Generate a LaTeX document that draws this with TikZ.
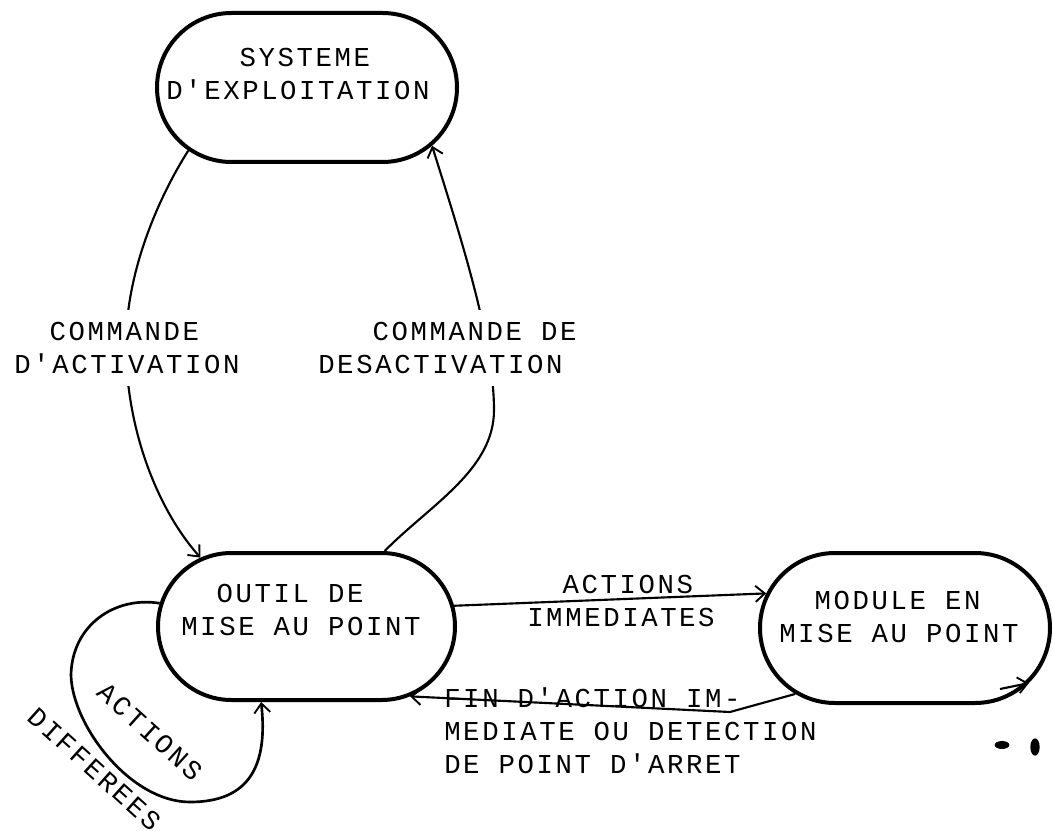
\documentclass[tikz,border=0pt]{standalone}
\usepackage{fontspec}
\setmonofont{Liberation Mono}[LetterSpace=9.5]
\usetikzlibrary{shapes.misc,arrows.meta}

\tikzset{
  state/.style={rounded rectangle, draw, line width=3pt, inner sep=0pt},
  tw/.style={font=\ttfamily\fontsize{20.5pt}{24.75pt}\selectfont, inner sep=0pt, align=left, anchor=west},
  gap/.style={fill=white, inner ysep=9pt},
  link/.style={line width=1.6pt, -{Straight Barb[length=7pt,width=12pt,line width=1.4pt]}},
}

\begin{document}
\begin{tikzpicture}[x=0.75pt,y=0.75pt]
\useasboundingbox (0,0) rectangle (1053,-831);

% the three states
\node[state, minimum width=225pt, minimum height=111.75pt] (sys) at (307,-87.5) {};
\node[state, minimum width=222.75pt, minimum height=110.25pt] (outil) at (306.5,-626.5) {};
\node[state, minimum width=217.5pt, minimum height=112.5pt] (module) at (905,-628) {};

\node[tw] (sys-name) at (166,-74) {\hphantom{XXXX}SYSTEME\\D'EXPLOITATION};
\node[tw] (outil-name) at (181,-609.5) {\hphantom{XX}OUTIL DE\\MISE AU POINT};
\node[tw] (module-name) at (779,-617) {\hphantom{XX}MODULE EN\\MISE AU POINT};

% activation / deactivation
\draw[link] (sys.208) .. controls (160,-195) and (126,-270) .. (126,-345)
  .. controls (126,-430) and (158,-510) .. (outil.147);
\draw[link] (outil.44) .. controls (430,-505) and (494,-470) .. (494,-410)
  .. controls (494,-340) and (460,-235) .. (sys.335);

% immediate actions and their end
\draw[link] (outil.8) -- (module.166);
\coordinate (kink) at (730,-712);
\draw[link] (module.211) -- (kink) -- (outil.326);

% deferred actions
\draw[link, line width=2pt] (outil.171) .. controls (115,-596) and (72,-625) .. (71,-675)
  .. controls (72,-725) and (130,-802) .. (190,-802)
  .. controls (250,-802) and (268,-765) .. (outil.239.4);

% short stroke at the module
\coordinate (stub) at (1000,-689);
\draw[link] (stub) -- (module.336);
\fill (1002,-745) ellipse [x radius=5.5pt, y radius=3pt];
\fill (1035,-747) ellipse [x radius=3.5pt, y radius=6.5pt];

% connector labels
\node[tw, gap] (act-label) at (14,-348) {\hphantom{XX}COMMANDE\\D'ACTIVATION};
\node[tw, gap] (deact-label) at (318,-348) {\hphantom{DES}COMMANDE DE\\DESACTIVATION};
\node[tw] (imm-label) at (527,-601) {\hphantom{XX}ACTIONS\\IMMEDIATES};
\node[tw] (end-label) at (444,-730.5) {FIN D'ACTION IM-\\MEDIATE OU DETECTION\\DE POINT D'ARRET};
\node[tw, anchor=center, rotate=-42] (loop-label) at (116,-745) {\hphantom{XX}ACTIONS\\[24pt]DIFFEREES};
\end{tikzpicture}
\end{document}
